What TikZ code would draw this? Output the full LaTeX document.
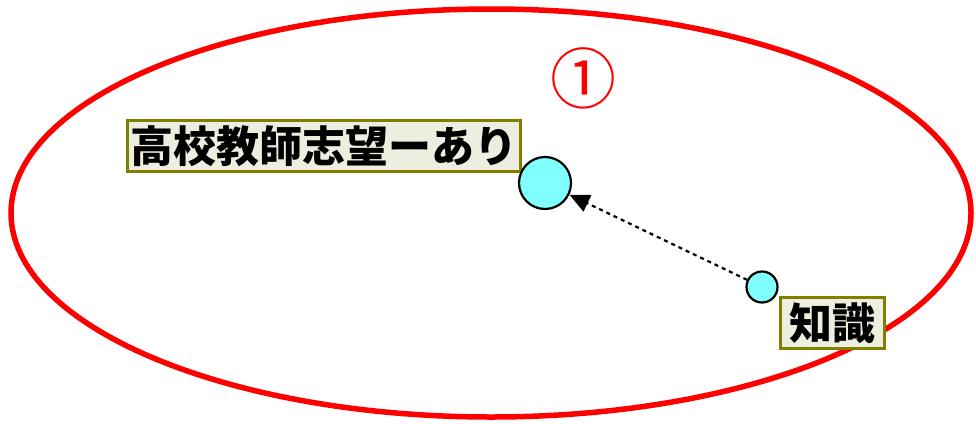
\documentclass[tikz,border=0pt]{standalone}
\usepackage{fontspec}
\newfontfamily\jp{Noto Sans CJK JP}
\usetikzlibrary{arrows.meta}
\definecolor{lblfill}{HTML}{EEEEE0}
\definecolor{lbldraw}{HTML}{808000}
\definecolor{nodefill}{HTML}{80FFFF}
\tikzset{
  lbl/.style={draw=lbldraw, line width=3pt, fill=lblfill, inner sep=1pt, font=\jp\bfseries\fontsize{43}{46}\selectfont, text=black, anchor=north west, minimum height=51pt},
  dot/.style={circle, draw=black, line width=2.2pt, fill=nodefill, inner sep=0pt},
  link/.style={draw=black, line width=2.2pt, dash pattern=on 4pt off 4pt, -{Triangle[length=20pt,width=18pt]}}
}
\begin{document}
\begin{tikzpicture}[x=1pt,y=-1pt]
\useasboundingbox (0,0) rectangle (976,423);
\draw[red, line width=5.5pt] (491,213) ellipse [x radius=480, y radius=204];
\node[text=red, font=\jp\fontsize{66}{68}\selectfont, inner sep=0pt] (num) at (583,78) {①};
\node[lbl, minimum width=393pt] (l1) at (126,119) {高校教師志望ーあり};
\node[lbl, minimum width=104pt] (l2) at (779,296) {知識};
\node[dot, minimum size=52pt] (big) at (545,183) {};
\node[dot, minimum size=31pt] (small) at (762,287) {};
\draw[link] (small) -- (big);
\end{tikzpicture}
\end{document}
